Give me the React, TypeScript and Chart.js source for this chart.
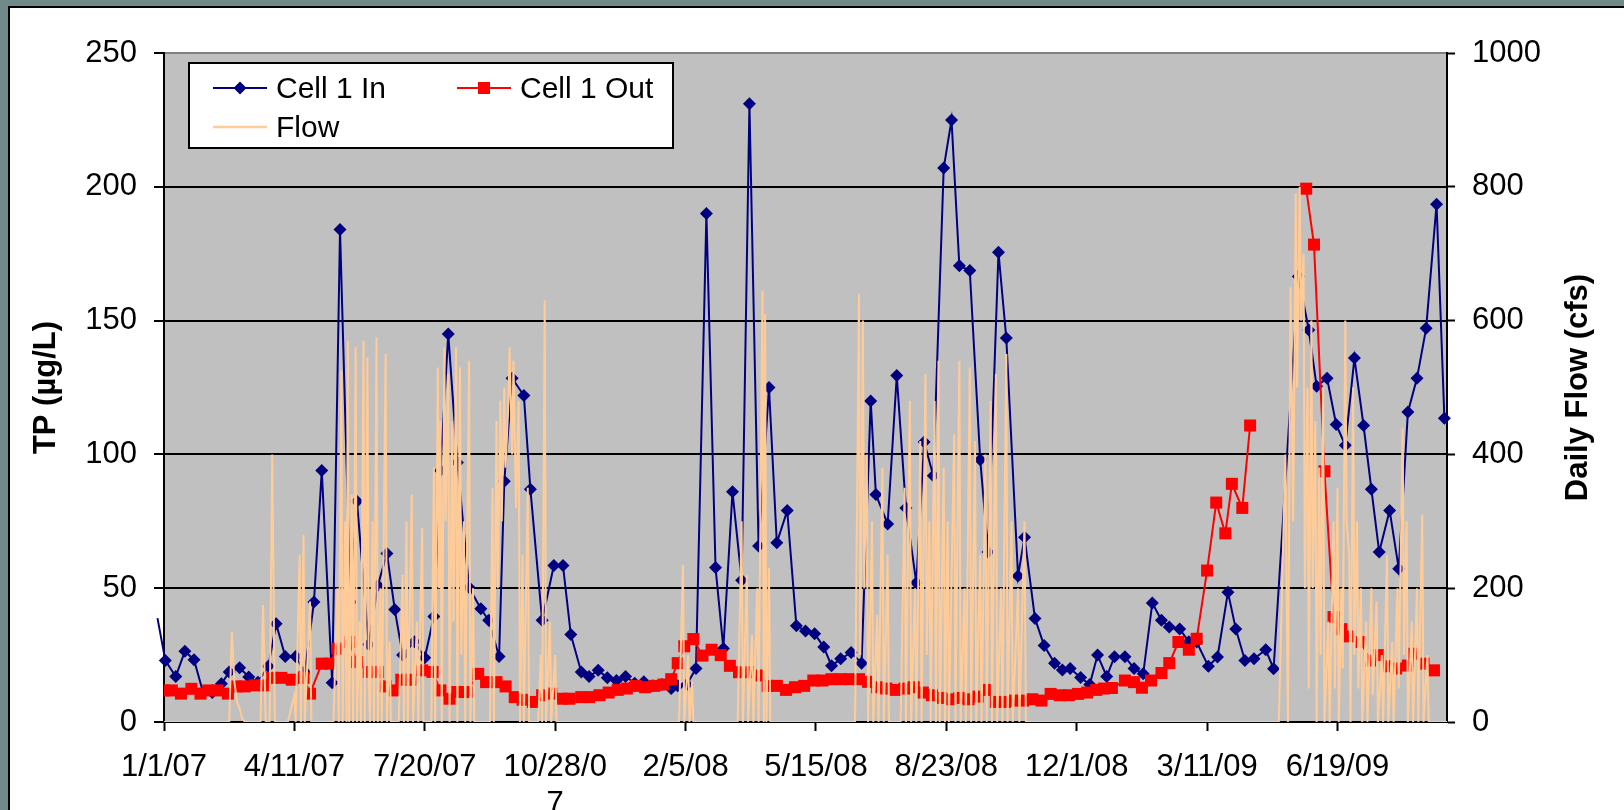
import React, { useEffect, useRef } from 'react';
import { Chart, registerables } from 'chart.js';
Chart.register(...registerables);

// x positions are days counted from 1/1/07
const xTickDays = [0, 100, 200, 300, 400, 500, 600, 700, 800, 900];
const xTickLabels: (string | string[])[] = ['1/1/07', '4/11/07', '7/20/07', ['10/28/0', '7'], '2/5/08', '5/15/08', '8/23/08', '12/1/08', '3/11/09', '6/19/09'];
const xMax = 984;
const leftTicks = [0, 50, 100, 150, 200, 250];
const rightTicks = [0, 200, 400, 600, 800, 1000];

const inDays = [-5, 1, 9, 16, 23, 30, 37, 44, 50, 58, 65, 72, 80, 86, 93, 101, 108, 115, 121, 129, 135, 143, 148, 157, 164, 171, 177, 183, 192, 200, 207, 212, 218, 225, 234, 243, 249, 257, 261, 267, 276, 281, 290, 299, 306, 312, 320, 326, 333, 340, 347, 354, 361, 368, 375, 382, 389, 394, 401, 408, 416, 423, 429, 436, 443, 449, 456, 464, 470, 478, 485, 492, 499, 506, 512, 519, 527, 535, 542, 546, 555, 562, 569, 577, 583, 590, 598, 604, 610, 618, 626, 632, 640, 646, 655, 660, 668, 675, 683, 689, 695, 703, 710, 716, 723, 729, 737, 744, 751, 758, 765, 771, 779, 786, 792, 801, 808, 816, 822, 829, 836, 845, 851, 870, 878, 884, 892, 899, 906, 913, 920, 926, 932, 940, 947, 954, 961, 968, 976, 982];
const inValues = [38.8, 23, 17, 26.4, 23.3, 11, 11, 14.3, 18.7, 20.3, 16.8, 14.9, 20.8, 36.7, 24.5, 24.5, 18.7, 44.8, 94, 14.7, 184, 44.8, 82.5, 29, 51, 63, 42, 25, 30, 24, 39.4, 94, 145, 97, 50.3, 42.3, 38, 24.5, 90, 128.5, 122, 87, 38, 58.5, 58.5, 32.7, 18.7, 17, 19.3, 16.5, 15.5, 17, 14.5, 15, 13.5, 14, 12.5, 13.5, 14, 20, 190, 57.7, 27.5, 86, 53, 231, 65.8, 125, 67, 79, 36, 34, 33, 28, 21, 23.6, 26, 22, 120, 85, 74, 129.5, 80, 52, 104.6, 92, 207, 225, 170.5, 168.7, 98, 63.5, 175.5, 143.5, 54.6, 69, 38.7, 28.6, 22, 19.4, 20, 16.6, 14, 25, 17, 24.4, 24.4, 20, 18, 44.5, 38, 35.5, 34.8, 30, 29.9, 20.8, 24.3, 48.5, 34.8, 23, 23.6, 27, 19.9, 166.5, 146.5, 125.5, 128.5, 111.2, 103.4, 136, 110.8, 87, 63.5, 79, 57.3, 115.8, 128.5, 147.1, 193.5, 113.5];

// null marks the break in the outflow record (spring 2009)
const outDays = [0, 6, 13, 21, 28, 34, 41, 49, 55, 62, 70, 77, 83, 90, 98, 107, 112, 121, 127, 133, 142, 148, 157, 164, 170, 176, 182, 189, 198, 206, 212, 219, 225, 232, 241, 247, 255, 262, 269, 275, 283, 290, 297, 305, 311, 320, 326, 334, 341, 348, 355, 362, 369, 376, 383, 389, 394, 399, 406, 413, 420, 427, 434, 441, 448, 456, 463, 470, 477, 484, 491, 498, 505, 512, 519, 526, 533, 540, 547, 554, 561, 568, 575, 582, 589, 596, 603, 610, 617, 624, 631, 638, 645, 652, 659, 666, 673, 680, 687, 694, 701, 708, 715, 721, 727, 737, 744, 750, 757, 765, 771, 778, 786, 792, 800, 807, 814, 819, 827, 833, 850, 876, 882, 890, 897, 903, 909, 918, 925, 932, 938, 945, 954, 958, 966, 974];
const outValues: (number | null)[] = [11.8, 11.8, 10.6, 12.4, 10.6, 11.8, 11.8, 10.6, 13.3, 13.3, 13.7, 13.7, 16.5, 16.5, 15.8, 16.5, 10.6, 21.8, 21.8, 27.4, 29.9, 22.4, 18.7, 18.7, 13.3, 11.8, 15.8, 15.8, 19.3, 18.7, 11.8, 8.7, 11.2, 11.2, 18, 14.9, 14.9, 13.3, 9.3, 8.3, 7.5, 10, 10.6, 8.7, 8.7, 9.3, 9.3, 10, 11, 12, 12.5, 13.5, 13, 13.5, 14, 16, 22, 28.3, 31, 24.8, 27, 25, 21, 18.6, 18.6, 17.4, 13.5, 13.5, 12, 13, 13.5, 15.5, 15.5, 16, 16, 16, 16, 15, 13, 12.5, 12, 12.5, 13, 11, 10, 9, 8.5, 9, 8.5, 9.5, 12, 7.5, 7.5, 8, 8, 8.5, 8, 10.5, 10, 10, 10.5, 11, 12, 12.5, 12.7, 15.5, 14.9, 12.8, 15.5, 18.3, 22, 29.9, 27, 31.1, 56.6, 82, 70.5, 89, 80, 110.8, null, 199.3, 178.4, 93.7, 39.2, 34.7, 32, 29.9, 23, 25, 20.8, 20, 21.1, 25.5, 21.8, 19.3];

const flowDays = [0, 50, 52, 54, 56, 58, 60, 62, 74, 76, 78, 81, 83, 85, 95, 100, 101, 104, 105, 107, 108, 112, 113, 118, 130, 133, 134, 136, 137, 139, 140, 141, 142, 144, 145, 147, 148, 150, 151, 153, 154, 156, 157, 158, 160, 161, 163, 164, 166, 167, 170, 171, 173, 174, 180, 183, 184, 186, 187, 190, 191, 194, 195, 198, 199, 205, 207, 208, 210, 211, 212, 213, 215, 216, 218, 219, 221, 222, 224, 225, 227, 228, 230, 231, 234, 235, 237, 238, 250, 252, 253, 255, 256, 258, 259, 261, 262, 264, 265, 267, 268, 270, 272, 273, 275, 276, 279, 280, 287, 289, 290, 292, 293, 296, 297, 300, 301, 395, 398, 399, 402, 403, 405, 406, 440, 443, 444, 447, 448, 451, 452, 455, 456, 459, 460, 461, 462, 464, 465, 530, 533, 534, 536, 537, 539, 540, 543, 544, 547, 548, 551, 552, 555, 556, 565, 568, 569, 572, 573, 576, 577, 580, 581, 584, 585, 587, 588, 591, 592, 594, 595, 598, 599, 601, 602, 606, 607, 610, 611, 614, 615, 618, 619, 622, 623, 626, 627, 630, 631, 634, 635, 638, 639, 642, 643, 646, 647, 650, 651, 655, 656, 660, 661, 855, 860, 862, 864, 866, 868, 869, 871, 872, 874, 875, 877, 878, 880, 881, 883, 884, 886, 887, 889, 890, 893, 894, 897, 898, 900, 901, 903, 904, 906, 907, 909, 910, 912, 913, 915, 916, 918, 919, 922, 923, 926, 927, 930, 931, 934, 935, 938, 939, 942, 943, 946, 947, 950, 951, 953, 954, 957, 958, 961, 962, 965, 966, 969, 970, 984];
const flowValues = [0, 0, 135, 60, 30, 20, 5, 0, 0, 175, 0, 0, 400, 0, 0, 40, 0, 250, 0, 280, 0, 180, 0, 0, 0, 200, 0, 525, 0, 300, 0, 570, 0, 340, 0, 560, 0, 150, 0, 570, 0, 545, 60, 0, 300, 0, 575, 0, 200, 0, 550, 0, 120, 0, 0, 220, 0, 300, 0, 340, 0, 150, 0, 290, 0, 0, 380, 0, 530, 200, 450, 0, 560, 300, 520, 0, 450, 150, 560, 0, 530, 100, 300, 0, 540, 0, 200, 0, 0, 350, 0, 450, 200, 480, 300, 500, 380, 470, 560, 400, 540, 320, 480, 0, 250, 0, 350, 0, 0, 100, 0, 630, 0, 150, 0, 100, 0, 0, 235, 0, 100, 0, 60, 0, 0, 300, 0, 220, 0, 130, 0, 200, 0, 645, 0, 610, 0, 230, 0, 0, 640, 100, 600, 200, 400, 0, 300, 0, 160, 0, 380, 0, 250, 0, 0, 350, 0, 480, 0, 200, 0, 420, 0, 520, 100, 300, 0, 480, 0, 540, 0, 380, 0, 300, 0, 430, 0, 540, 0, 200, 0, 530, 0, 420, 0, 250, 0, 400, 0, 480, 0, 520, 0, 200, 0, 550, 0, 300, 0, 200, 0, 300, 0, 0, 400, 0, 650, 300, 790, 500, 800, 600, 700, 200, 500, 50, 600, 200, 450, 0, 380, 100, 500, 0, 150, 0, 300, 50, 350, 0, 200, 80, 600, 300, 250, 0, 500, 100, 300, 50, 200, 0, 150, 0, 200, 40, 180, 0, 100, 0, 250, 0, 120, 0, 200, 50, 440, 100, 300, 0, 150, 0, 200, 0, 310, 0, 100, 0, 0];

const FONT = "'Liberation Sans', Arial, sans-serif";
const NAVY = '#000080';
const RED = '#FF0000';
const PEACH = '#FFCC99';

const framePlugin = {
  id: 'frame',
  beforeDraw(chart: any) {
    const { ctx, chartArea: a } = chart;
    ctx.save();
    ctx.fillStyle = '#C0C0C0';
    ctx.fillRect(a.left, a.top, a.right - a.left, a.bottom - a.top);
    ctx.restore();
  },
  afterDraw(chart: any) {
    const { ctx, chartArea: a } = chart;
    ctx.save();
    // right axis title, reading bottom to top
    ctx.translate(1578, (a.top + a.bottom) / 2);
    ctx.rotate(-Math.PI / 2);
    ctx.font = `bold 31px ${FONT}`;
    ctx.fillStyle = '#000';
    ctx.textAlign = 'center';
    ctx.textBaseline = 'middle';
    ctx.fillText('Daily Flow (cfs)', 0, 0);
    ctx.restore();

    // legend box
    const L = a.left + 25, T = a.top + 10, W = 484, H = 85;
    ctx.save();
    ctx.fillStyle = '#fff';
    ctx.fillRect(L, T, W, H);
    ctx.strokeStyle = '#000';
    ctx.lineWidth = 2;
    ctx.strokeRect(L, T, W, H);
    ctx.font = `30px ${FONT}`;
    ctx.fillStyle = '#000';
    ctx.textBaseline = 'alphabetic';
    ctx.textAlign = 'left';
    const items = [
      { label: 'Cell 1 In', color: NAVY, marker: 'diamond', x: L + 24, y: T + 25 },
      { label: 'Cell 1 Out', color: RED, marker: 'square', x: L + 268, y: T + 25 },
      { label: 'Flow', color: PEACH, marker: 'none', x: L + 24, y: T + 64 },
    ];
    for (const it of items) {
      ctx.strokeStyle = it.color;
      ctx.lineWidth = it.marker === 'none' ? 2.5 : 2;
      ctx.beginPath();
      ctx.moveTo(it.x, it.y);
      ctx.lineTo(it.x + 54, it.y);
      ctx.stroke();
      ctx.fillStyle = it.color;
      const cx = it.x + 27;
      if (it.marker === 'diamond') {
        ctx.beginPath();
        ctx.moveTo(cx, it.y - 6.5);
        ctx.lineTo(cx + 6.5, it.y);
        ctx.lineTo(cx, it.y + 6.5);
        ctx.lineTo(cx - 6.5, it.y);
        ctx.closePath();
        ctx.fill();
      } else if (it.marker === 'square') {
        ctx.fillRect(cx - 6, it.y - 6, 12, 12);
      }
      ctx.fillStyle = '#000';
      ctx.fillText(it.label, it.x + 63, it.y + 10);
    }
    ctx.restore();
  },
};

export default function App() {
  const ref = useRef<HTMLCanvasElement>(null);
  useEffect(() => {
    if (!ref.current) return;
    const chart = new Chart(ref.current, {
      type: 'line',
      data: {
        datasets: [
          {
            label: 'Cell 1 In',
            data: inDays.map((d, i) => ({ x: d, y: inValues[i] })),
            borderColor: NAVY,
            backgroundColor: NAVY,
            borderWidth: 2,
            pointStyle: 'rectRot',
            pointRadius: inDays.map((d) => (d < 0 ? 0 : 6.5)),
            pointBorderWidth: 0,
            pointBackgroundColor: NAVY,
            yAxisID: 'y',
            order: 2,
            tension: 0,
            clip: false,
          },
          {
            label: 'Cell 1 Out',
            data: outDays.map((d, i) => ({ x: d, y: outValues[i] })),
            borderColor: RED,
            backgroundColor: RED,
            borderWidth: 2,
            pointStyle: 'rect',
            pointRadius: 8.5,
            pointBorderWidth: 0,
            pointBackgroundColor: RED,
            yAxisID: 'y',
            order: 1,
            tension: 0,
            spanGaps: false,
          },
          {
            label: 'Flow',
            data: flowDays.map((d, i) => ({ x: d, y: flowValues[i] })),
            borderColor: PEACH,
            backgroundColor: PEACH,
            borderWidth: 2,
            pointRadius: 0,
            yAxisID: 'y1',
            order: 0,
            tension: 0,
          },
        ],
      },
      options: {
        animation: false,
        responsive: false,
        devicePixelRatio: 1,
        layout: { padding: { top: 53, left: 0, right: 0, bottom: 0 } },
        plugins: { legend: { display: false }, tooltip: { enabled: false } },
        scales: {
          x: {
            type: 'linear',
            position: 'bottom',
            min: 0,
            max: xMax,
            afterBuildTicks: (s: any) => { s.ticks = xTickDays.map((v) => ({ value: v })); },
            afterFit: (s: any) => { s.height = 88; },
            grid: { drawOnChartArea: false, drawTicks: true, tickLength: 9, tickColor: '#000', tickWidth: 2 },
            border: { display: true, color: '#000', width: 2 },
            ticks: {
              autoSkip: false,
              maxRotation: 0,
              minRotation: 0,
              padding: 18,
              color: '#000',
              font: { family: FONT, size: 31 },
              callback: (v: any) => {
                const i = xTickDays.indexOf(Number(v));
                return i >= 0 ? xTickLabels[i] : '';
              },
            },
          },
          y: {
            type: 'linear',
            position: 'left',
            min: 0,
            max: 250,
            afterBuildTicks: (s: any) => { s.ticks = leftTicks.map((v) => ({ value: v })); },
            afterFit: (s: any) => { s.width = 164; },
            grid: {
              color: (c: any) => (c.tick && c.tick.value === 250 ? '#808080' : '#000'),
              lineWidth: 2,
              drawTicks: true,
              tickLength: 10,
              tickColor: '#000',
              tickWidth: 2,
            },
            border: { display: true, color: '#000', width: 2 },
            title: {
              display: true,
              text: 'TP (µg/L)',
              color: '#000',
              font: { family: FONT, size: 31, weight: 'bold' },
              padding: { top: 28, bottom: 0 },
            },
            ticks: { padding: 17, color: '#000', font: { family: FONT, size: 31 }, callback: (v: any) => String(v) },
          },
          y1: {
            type: 'linear',
            position: 'right',
            min: 0,
            max: 1000,
            afterBuildTicks: (s: any) => { s.ticks = rightTicks.map((v) => ({ value: v })); },
            afterFit: (s: any) => { s.width = 177; },
            grid: { drawOnChartArea: false, drawTicks: true, tickLength: 8, tickColor: '#000', tickWidth: 2 },
            border: { display: true, color: '#000', width: 2 },
            ticks: { padding: 17, color: '#000', font: { family: FONT, size: 31 }, callback: (v: any) => String(v) },
          },
        },
      },
      plugins: [framePlugin],
    } as any);
    return () => chart.destroy();
  }, []);

  return (
    <div style={{ position: 'fixed', left: 0, top: 0, width: 1624, height: 810, background: '#6F8A89', overflow: 'hidden' }}>
      <div style={{ position: 'absolute', left: 8, top: 6, width: 1640, height: 830, background: '#FFFFFF', border: '2px solid #000', boxSizing: 'border-box' }} />
      <canvas ref={ref} width={1624} height={810} style={{ position: 'absolute', left: 0, top: 0, width: 1624, height: 810, display: 'block' }} />
    </div>
  );
}
